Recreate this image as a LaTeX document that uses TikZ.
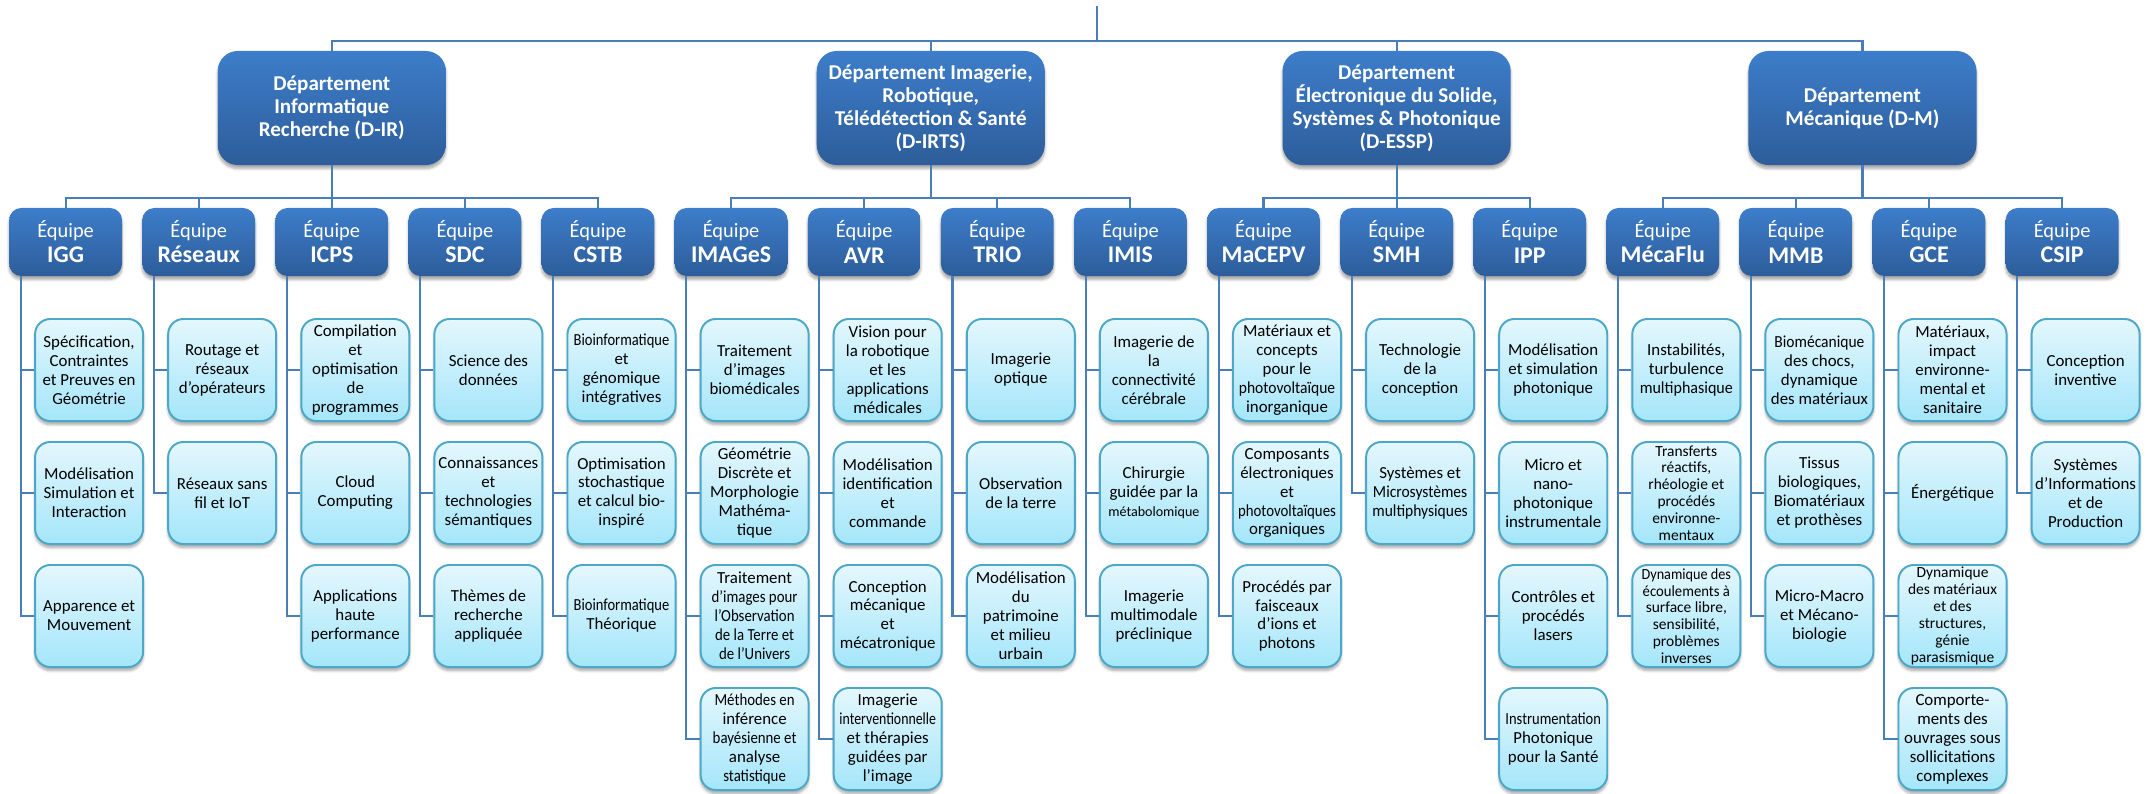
\documentclass[tikz,border=0pt]{standalone}
\usepackage{fontspec}
\usepackage{graphicx}
\setmainfont{Carlito}
\usetikzlibrary{shadows.blur}

\definecolor{depttop}{HTML}{3D7DCA}
\definecolor{deptbot}{HTML}{2D5D9A}
\definecolor{topictop}{HTML}{E4F7FD}
\definecolor{topicbot}{HTML}{A4E6FA}
\definecolor{topicline}{HTML}{4BA8C9}
\definecolor{linkcol}{HTML}{4A7EBB}

\newcommand{\acr}[1]{{\fontsize{17}{17.8}\selectfont\bfseries #1}}
\newcommand{\cnd}[2][0.88]{\scalebox{#1}[1]{#2}}

\begin{document}
\begin{tikzpicture}[x=0.025cm,y=-0.025cm]
        \tikzstyle{dept}=[rounded corners=0.5cm,minimum width=5.7cm,minimum height=2.85cm,inner sep=0pt,top color=depttop,bottom color=deptbot,text=white,align=center,font=\fontsize{15}{16.4}\selectfont\bfseries,blur shadow={shadow xshift=0pt,shadow yshift=-2.5pt,shadow blur steps=6,shadow opacity=35}]
        \tikzstyle{team}=[rounded corners=0.3cm,minimum width=2.82cm,minimum height=1.7cm,inner sep=0pt,top color=depttop,bottom color=deptbot,text=white,align=center,font=\fontsize{14.5}{17.8}\selectfont,blur shadow={shadow xshift=0pt,shadow yshift=-2.5pt,shadow blur steps=6,shadow opacity=35}]
        \tikzstyle{topic}=[rounded corners=0.38cm,minimum width=2.7cm,minimum height=2.55cm,inner sep=0pt,draw=topicline,line width=1.4pt,top color=topictop,bottom color=topicbot,align=center,font=\fontsize{12}{13.5}\selectfont,blur shadow={shadow xshift=0pt,shadow yshift=-2.5pt,shadow blur steps=6,shadow opacity=35}]
        \tikzstyle{tight}=[font=\fontsize{11}{12}\selectfont]
        \tikzstyle{link}=[draw=linkcol,line width=1.5pt]

        \useasboundingbox (0,0) rectangle (2154,794);

        % departements
        \node (dir)[dept] at (331.8,108) {Département\\Informatique\\Recherche (D-IR)};
        \node (dirts)[dept] at (930.75,108) {Département Imagerie,\\Robotique,\\Télédétection \& Santé\\(D-IRTS)};
        \node (dessp)[dept] at (1396.6,108) {Département\\Électronique du Solide,\\Systèmes \& Photonique\\(D-ESSP)};
        \node (dm)[dept] at (1862.45,108) {Département\\Mécanique (D-M)};

        % equipes
        \node (igg)[team] at (65.6,242) {Équipe\\\acr{IGG}};
        \node (res)[team] at (198.7,242) {Équipe\\\acr{Réseaux}};
        \node (icps)[team] at (331.8,242) {Équipe\\\acr{ICPS}};
        \node (sdc)[team] at (464.9,242) {Équipe\\\acr{SDC}};
        \node (cstb)[team] at (598.0,242) {Équipe\\\acr{CSTB}};
        \node (imgs)[team] at (731.1,242) {Équipe\\\acr{IMAGeS}};
        \node (avr)[team] at (864.2,242) {Équipe\\\acr{AVR}};
        \node (trio)[team] at (997.3,242) {Équipe\\\acr{TRIO}};
        \node (imis)[team] at (1130.4,242) {Équipe\\\acr{IMIS}};
        \node (macepv)[team] at (1263.5,242) {Équipe\\\acr{MaCEPV}};
        \node (smh)[team] at (1396.6,242) {Équipe\\\acr{SMH}};
        \node (ipp)[team] at (1529.7,242) {Équipe\\\acr{IPP}};
        \node (meca)[team] at (1662.8,242) {Équipe\\\acr{MécaFlu}};
        \node (mmb)[team] at (1795.9,242) {Équipe\\\acr{MMB}};
        \node (gce)[team] at (1929.0,242) {Équipe\\\acr{GCE}};
        \node (csip)[team] at (2062.1,242) {Équipe\\\acr{CSIP}};

        % themes
        \node (igg1)[topic] at (89.1,370) {Spécification,\\Contraintes\\et Preuves en\\Géométrie};
        \node (igg2)[topic] at (89.1,493) {Modélisation\\Simulation et\\Interaction};
        \node (igg3)[topic] at (89.1,616) {Apparence et\\Mouvement};
        \node (res1)[topic] at (222.2,370) {Routage et\\réseaux\\d'opérateurs};
        \node (res2)[topic] at (222.2,493) {Réseaux sans\\fil et IoT};
        \node (icps1)[topic] at (355.3,370) {Compilation\\et\\optimisation\\de\\programmes};
        \node (icps2)[topic] at (355.3,493) {Cloud\\Computing};
        \node (icps3)[topic] at (355.3,616) {Applications\\haute\\performance};
        \node (sdc1)[topic] at (488.4,370) {Science des\\données};
        \node (sdc2)[topic] at (488.4,493) {Connaissances\\et\\technologies\\sémantiques};
        \node (sdc3)[topic] at (488.4,616) {Thèmes de\\recherche\\appliquée};
        \node (cstb1)[topic] at (621.5,370) {\cnd[0.86]{Bioinformatique}\\et\\génomique\\intégratives};
        \node (cstb2)[topic] at (621.5,493) {Optimisation\\stochastique\\et calcul bio-\\inspiré};
        \node (cstb3)[topic] at (621.5,616) {\cnd[0.86]{Bioinformatique}\\Théorique};
        \node (imgs1)[topic] at (754.6,370) {Traitement\\d’images\\biomédicales};
        \node (imgs2)[topic] at (754.6,493) {Géométrie\\Discrète et\\Morphologie\\Mathéma-\\tique};
        \node (imgs3)[topic] at (754.6,616) {Traitement\\\cnd{d'images pour}\\\cnd{l'Observation}\\\cnd{de la Terre et}\\\cnd{de l'Univers}};
        \node (imgs4)[topic] at (754.6,739) {\cnd{Méthodes en}\\inférence\\\cnd{bayésienne et}\\analyse\\\cnd{statistique}};
        \node (avr1)[topic] at (887.7,370) {Vision pour\\la robotique\\et les\\applications\\médicales};
        \node (avr2)[topic] at (887.7,493) {Modélisation\\identification\\et\\commande};
        \node (avr3)[topic] at (887.7,616) {Conception\\mécanique\\et\\mécatronique};
        \node (avr4)[topic] at (887.7,739) {Imagerie\\\cnd[0.82]{interventionnelle}\\et thérapies\\guidées par\\l’image};
        \node (trio1)[topic] at (1020.8,370) {Imagerie\\optique};
        \node (trio2)[topic] at (1020.8,493) {Observation\\de la terre};
        \node (trio3)[topic] at (1020.8,616) {Modélisation\\du\\patrimoine\\et milieu\\urbain};
        \node (imis1)[topic] at (1153.9,370) {Imagerie de\\la\\connectivité\\cérébrale};
        \node (imis2)[topic] at (1153.9,493) {Chirurgie\\guidée par la\\{\fontsize{10}{13.5}\selectfont métabolomique}};
        \node (imis3)[topic] at (1153.9,616) {Imagerie\\multimodale\\préclinique};
        \node (macepv1)[topic] at (1287.0,370) {Matériaux et\\concepts\\pour le\\\cnd[0.92]{photovoltaïque}\\inorganique};
        \node (macepv2)[topic] at (1287.0,493) {Composants\\électroniques\\et\\\cnd{photovoltaïques}\\organiques};
        \node (macepv3)[topic] at (1287.0,616) {Procédés par\\faisceaux\\d’ions et\\photons};
        \node (smh1)[topic] at (1420.1,370) {Technologie\\de la\\conception};
        \node (smh2)[topic] at (1420.1,493) {Systèmes et\\\cnd[0.92]{Microsystèmes}\\\cnd[0.92]{multiphysiques}};
        \node (ipp1)[topic] at (1553.2,370) {Modélisation\\et simulation\\photonique};
        \node (ipp2)[topic] at (1553.2,493) {Micro et\\nano-\\photonique\\instrumentale};
        \node (ipp3)[topic] at (1553.2,616) {Contrôles et\\procédés\\lasers};
        \node (ipp4)[topic] at (1553.2,739) {\cnd[0.86]{Instrumentation}\\Photonique\\pour la Santé};
        \node (meca1)[topic] at (1686.3,370) {Instabilités,\\turbulence\\\cnd[0.95]{multiphasique}};
        \node (meca2)[topic,tight] at (1686.3,493) {Transferts\\réactifs,\\rhéologie et\\procédés\\environne-\\mentaux};
        \node (meca3)[topic,tight] at (1686.3,616) {\cnd[0.92]{Dynamique des}\\\cnd[0.95]{écoulements à}\\surface libre,\\sensibilité,\\problèmes\\inverses};
        \node (mmb1)[topic] at (1819.4,370) {\cnd[0.92]{Biomécanique}\\des chocs,\\dynamique\\des matériaux};
        \node (mmb2)[topic] at (1819.4,493) {Tissus\\biologiques,\\Biomatériaux\\et prothèses};
        \node (mmb3)[topic] at (1819.4,616) {Micro-Macro\\et Mécano-\\biologie};
        \node (gce1)[topic] at (1952.5,370) {Matériaux,\\impact\\environne-\\mental et\\sanitaire};
        \node (gce2)[topic] at (1952.5,493) {Énergétique};
        \node (gce3)[topic,tight] at (1952.5,616) {Dynamique\\des matériaux\\et des\\structures,\\génie\\parasismique};
        \node (gce4)[topic] at (1952.5,739) {Comporte-\\ments des\\ouvrages sous\\sollicitations\\complexes};
        \node (csip1)[topic] at (2085.6,370) {Conception\\inventive};
        \node (csip2)[topic] at (2085.6,493) {Systèmes\\d'Informations\\et de\\Production};

        % liaisons du haut
        \coordinate (top) at (1097.1,6);
        \coordinate (bus) at (1097.1,41);
        \draw[link] (top) -- (bus);
        \draw[link] (dir.north) |- (bus) -| (dm.north);
        \draw[link] (dirts.north) -- (dirts.north |- bus);
        \draw[link] (dessp.north) -- (dessp.north |- bus);

        % departements vers equipes
        \coordinate (irbus) at (331.8,198);
        \coordinate (irtsbus) at (930.75,198);
        \coordinate (esspbus) at (1396.6,198);
        \coordinate (mbus) at (1862.45,198);
        \draw[link] (dir) -- (irbus);
        \draw[link] (igg.north) |- (irbus) -| (cstb.north);
        \draw[link] (res.north) -- (res.north |- irbus);
        \draw[link] (icps.north) -- (irbus);
        \draw[link] (sdc.north) -- (sdc.north |- irbus);
        \draw[link] (dirts) -- (irtsbus);
        \draw[link] (imgs.north) |- (irtsbus) -| (imis.north);
        \draw[link] (avr.north) -- (avr.north |- irtsbus);
        \draw[link] (trio.north) -- (trio.north |- irtsbus);
        \draw[link] (dessp) -- (esspbus);
        \draw[link] (macepv.north) |- (esspbus) -| (ipp.north);
        \draw[link] (smh.north) -- (esspbus);
        \draw[link] (dm) -- (mbus);
        \draw[link] (meca.north) |- (mbus) -| (csip.north);
        \draw[link] (mmb.north) -- (mmb.north |- mbus);
        \draw[link] (gce.north) -- (gce.north |- mbus);

        % equipes vers themes
        \draw[link] ([xshift=-1.12cm]igg.south) |- (igg1.west) ([xshift=-1.12cm]igg.south) |- (igg2.west) ([xshift=-1.12cm]igg.south) |- (igg3.west);
        \draw[link] ([xshift=-1.12cm]res.south) |- (res1.west) ([xshift=-1.12cm]res.south) |- (res2.west);
        \draw[link] ([xshift=-1.12cm]icps.south) |- (icps1.west) ([xshift=-1.12cm]icps.south) |- (icps2.west) ([xshift=-1.12cm]icps.south) |- (icps3.west);
        \draw[link] ([xshift=-1.12cm]sdc.south) |- (sdc1.west) ([xshift=-1.12cm]sdc.south) |- (sdc2.west) ([xshift=-1.12cm]sdc.south) |- (sdc3.west);
        \draw[link] ([xshift=-1.12cm]cstb.south) |- (cstb1.west) ([xshift=-1.12cm]cstb.south) |- (cstb2.west) ([xshift=-1.12cm]cstb.south) |- (cstb3.west);
        \draw[link] ([xshift=-1.12cm]imgs.south) |- (imgs1.west) ([xshift=-1.12cm]imgs.south) |- (imgs2.west) ([xshift=-1.12cm]imgs.south) |- (imgs3.west) ([xshift=-1.12cm]imgs.south) |- (imgs4.west);
        \draw[link] ([xshift=-1.12cm]avr.south) |- (avr1.west) ([xshift=-1.12cm]avr.south) |- (avr2.west) ([xshift=-1.12cm]avr.south) |- (avr3.west) ([xshift=-1.12cm]avr.south) |- (avr4.west);
        \draw[link] ([xshift=-1.12cm]trio.south) |- (trio1.west) ([xshift=-1.12cm]trio.south) |- (trio2.west) ([xshift=-1.12cm]trio.south) |- (trio3.west);
        \draw[link] ([xshift=-1.12cm]imis.south) |- (imis1.west) ([xshift=-1.12cm]imis.south) |- (imis2.west) ([xshift=-1.12cm]imis.south) |- (imis3.west);
        \draw[link] ([xshift=-1.12cm]macepv.south) |- (macepv1.west) ([xshift=-1.12cm]macepv.south) |- (macepv2.west) ([xshift=-1.12cm]macepv.south) |- (macepv3.west);
        \draw[link] ([xshift=-1.12cm]smh.south) |- (smh1.west) ([xshift=-1.12cm]smh.south) |- (smh2.west);
        \draw[link] ([xshift=-1.12cm]ipp.south) |- (ipp1.west) ([xshift=-1.12cm]ipp.south) |- (ipp2.west) ([xshift=-1.12cm]ipp.south) |- (ipp3.west) ([xshift=-1.12cm]ipp.south) |- (ipp4.west);
        \draw[link] ([xshift=-1.12cm]meca.south) |- (meca1.west) ([xshift=-1.12cm]meca.south) |- (meca2.west) ([xshift=-1.12cm]meca.south) |- (meca3.west);
        \draw[link] ([xshift=-1.12cm]mmb.south) |- (mmb1.west) ([xshift=-1.12cm]mmb.south) |- (mmb2.west) ([xshift=-1.12cm]mmb.south) |- (mmb3.west);
        \draw[link] ([xshift=-1.12cm]gce.south) |- (gce1.west) ([xshift=-1.12cm]gce.south) |- (gce2.west) ([xshift=-1.12cm]gce.south) |- (gce3.west) ([xshift=-1.12cm]gce.south) |- (gce4.west);
        \draw[link] ([xshift=-1.12cm]csip.south) |- (csip1.west) ([xshift=-1.12cm]csip.south) |- (csip2.west);
    \end{tikzpicture}
\end{document}
